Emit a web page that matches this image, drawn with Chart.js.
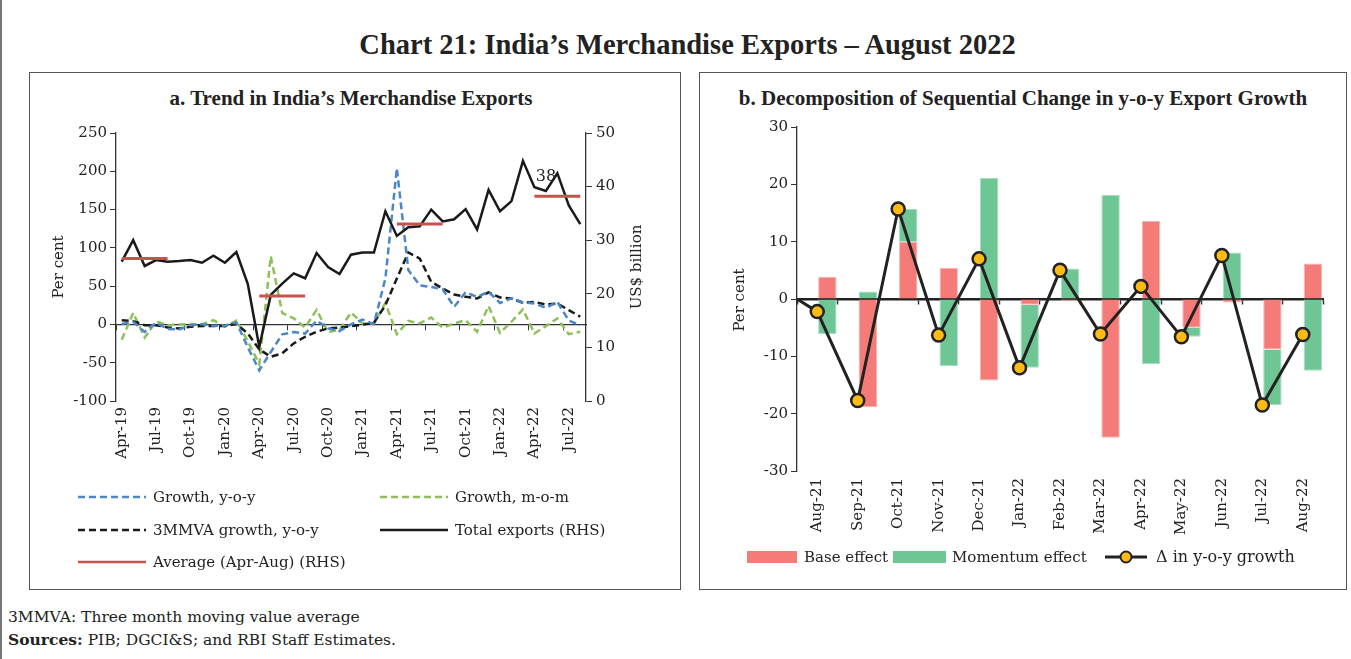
<!DOCTYPE html>
<html><head><meta charset="utf-8">
<script src="https://cdn.jsdelivr.net/npm/chart.js@4.4.0/dist/chart.umd.min.js"></script>
<style>
body{margin:0;background:#fff;width:1351px;height:659px;position:relative;overflow:hidden;font-family:"DejaVu Serif",serif;color:#222;}
.abs{position:absolute;}
#frame{position:absolute;left:0;top:0;width:2px;height:659px;background:#777;}
.panel{position:absolute;border:1.5px solid #555;box-sizing:border-box;}
#title{position:absolute;left:12px;width:1351px;top:28px;text-align:center;font:bold 28.5px "Liberation Serif",serif;line-height:34px;}
.sub{position:absolute;text-align:center;font:bold 21px "Liberation Serif",serif;line-height:24px;}
.rot{position:absolute;width:200px;height:20px;line-height:20px;text-align:center;font-size:15px;transform:rotate(-90deg);transform-origin:50% 50%;}
.lg{position:absolute;font-size:15px;line-height:20px;white-space:nowrap;}
.foot{position:absolute;left:8px;font-size:15.5px;line-height:20px;white-space:nowrap;}
svg{position:absolute;overflow:visible;}
</style></head>
<body>
<script>
// ---------- Panel a data ----------
const monthsA = ["Apr-19","May-19","Jun-19","Jul-19","Aug-19","Sep-19","Oct-19","Nov-19","Dec-19","Jan-20","Feb-20","Mar-20",
"Apr-20","May-20","Jun-20","Jul-20","Aug-20","Sep-20","Oct-20","Nov-20","Dec-20","Jan-21","Feb-21","Mar-21",
"Apr-21","May-21","Jun-21","Jul-21","Aug-21","Sep-21","Oct-21","Nov-21","Dec-21","Jan-22","Feb-22","Mar-22",
"Apr-22","May-22","Jun-22","Jul-22","Aug-22"];
const growthYoY = [0.6,3.5,-9.7,2.2,-6.0,-6.6,-1.1,0.3,-1.8,-1.7,2.9,-30,
-60,-36,-13,-10,-12,5,-5,-8.7,0.1,6.2,0.7,60,
204,71,51,49,46,23,42,36,42.6,28,34,28.7,
27.4,21.7,29.5,5,-0.9];
const growthMoM = [-20,15,-17,4,-1,0,0.5,0,5.5,-3,5,-22,
-52,89,15,8,-4,19,-10,-7,15.6,1.3,1.3,28,
-12.7,4.7,1.3,9,-4.4,1.3,5.6,-9.6,24,-11,3.5,19.6,
-11.8,-2.2,7.8,-12.7,-9.6];
const mma3 = [5.6,4.3,-1,-1,-3.9,-5.2,-3,-2,-2,-2,0.4,-11.7,
-32.6,-42.2,-37.8,-24.8,-16.1,-9.6,-5.2,-4.3,-2.2,-0.4,2.2,25,
60,94,86,55.6,47,39,36,34,41.8,35.2,34,28.2,
29.4,26,27.4,18.7,10];
const totalExports = [26.0,30.0,25.2,26.3,26.0,26.1,26.3,25.8,27.1,25.8,27.8,21.8,
10.1,19.8,21.9,23.8,22.9,27.6,25.0,23.7,27.3,27.7,27.7,35.4,
30.8,32.4,32.6,35.7,33.5,33.9,35.8,32.0,39.4,35.4,37.3,44.8,
39.9,39.2,42.5,36.5,33.0];
// Apr-Aug averages (RHS), one per year
const avgValues = [26.6,19.6,33.0,38.2];
const avgLabelText = "38";
const avgLabelMonth = "May-22";
const tickLabelsA = ["Apr-19","Jul-19","Oct-19","Jan-20","Apr-20","Jul-20","Oct-20","Jan-21","Apr-21","Jul-21","Oct-21","Jan-22","Apr-22","Jul-22"];

// ---------- Panel b data ----------
const monthsB = ["Aug-21","Sep-21","Oct-21","Nov-21","Dec-21","Jan-22","Feb-22","Mar-22","Apr-22","May-22","Jun-22","Jul-22","Aug-22"];
const baseEffect = [3.9,-18.9,10.0,5.4,-14.2,-1.0,-0.3,-24.2,13.6,-5.0,-0.6,-8.8,6.2];
const momentumEffect = [-6.1,1.3,5.7,-11.7,21.1,-11.0,5.3,18.2,-11.4,-1.6,8.1,-9.7,-12.5];
const yoyChange = [-2.2,-17.7,15.7,-6.3,7.0,-12.0,5.0,-6.1,2.2,-6.6,7.6,-18.5,-6.2];
const lineLeadIn = 0;
</script>

<div id="frame"></div>
<div id="title">Chart 21: India’s Merchandise Exports – August 2022</div>
<div class="panel" style="left:29px;top:72px;width:652px;height:518px"></div>
<div class="panel" style="left:699px;top:72px;width:648px;height:518px"></div>
<div class="sub" style="left:25px;width:652px;top:86px">a. Trend in India’s Merchandise Exports</div>
<div class="sub" style="left:699px;width:648px;top:86px">b. Decomposition of Sequential Change in y-o-y Export Growth</div>

<div class="abs" style="left:30px;top:110px;width:650px;height:370px"><canvas id="ca" width="650" height="370"></canvas></div>
<div class="abs" style="left:700px;top:110px;width:645px;height:430px"><canvas id="cb" width="645" height="430"></canvas></div>

<div class="rot" style="left:-42px;top:257px">Per cent</div>
<div class="rot" style="left:536px;top:257px">US$ billion</div>
<div class="rot" style="left:639px;top:290px">Per cent</div>

<!-- legends -->
<svg style="left:0;top:0" width="1" height="1">
  <line x1="78" y1="497" x2="146" y2="497" stroke="#4A86C8" stroke-width="2.5" stroke-dasharray="7,4"/>
  <line x1="380" y1="497" x2="448" y2="497" stroke="#8DC05A" stroke-width="2.5" stroke-dasharray="7,4"/>
  <line x1="78" y1="530" x2="146" y2="530" stroke="#1a1a1a" stroke-width="2.5" stroke-dasharray="7,4"/>
  <line x1="380" y1="530" x2="448" y2="530" stroke="#1a1a1a" stroke-width="2.5"/>
  <line x1="78" y1="562" x2="146" y2="562" stroke="#C9504C" stroke-width="2.5"/>
  <rect x="747" y="551" width="50" height="12" fill="#F47B78"/>
  <rect x="893" y="551" width="53" height="12" fill="#6EC695"/>
  <line x1="1105" y1="557" x2="1147" y2="557" stroke="#222" stroke-width="3"/>
  <circle cx="1126" cy="557" r="5.5" fill="#FDBB13" stroke="#222" stroke-width="2"/>
</svg>
<div class="lg" style="left:153px;top:487px">Growth, y-o-y</div>
<div class="lg" style="left:455px;top:487px">Growth, m-o-m</div>
<div class="lg" style="left:153px;top:520px">3MMVA growth, y-o-y</div>
<div class="lg" style="left:455px;top:520px">Total exports (RHS)</div>
<div class="lg" style="left:153px;top:552px">Average (Apr-Aug) (RHS)</div>
<div class="lg" style="left:804px;top:547px">Base effect</div>
<div class="lg" style="left:952px;top:547px">Momentum effect</div>
<div class="lg" style="left:1156px;top:547px;font-size:16px">Δ in y-o-y growth</div>

<div class="foot" style="top:607px">3MMVA: Three month moving value average</div>
<div class="foot" style="top:630px"><b>Sources:</b> PIB; DGCI&amp;S; and RBI Staff Estimates.</div>

<script>
const FONT = {family:'"DejaVu Serif", serif', size:15};
const AX = '#333';
Chart.defaults.color = '#222';

// average series: Apr..Aug of each year
const avgSeries = monthsA.map((m,i)=>{
  const mon = m.slice(0,3), yr = Math.floor(i/12);
  return ["Apr","May","Jun","Jul","Aug"].includes(mon) ? avgValues[yr] : null;
});

const avgLabelPlugin = {
  id:'avgLabel',
  afterDatasetsDraw(chart){
    const {ctx, scales} = chart;
    const x = scales.x.getPixelForValue(monthsA.indexOf(avgLabelMonth));
    const y = scales.y1.getPixelForValue(avgValues[avgValues.length-1]);
    ctx.save();
    ctx.font = '16px "DejaVu Serif", serif';
    ctx.fillStyle = '#222';
    ctx.textAlign = 'center';
    ctx.textBaseline = 'alphabetic';
    ctx.fillText(avgLabelText, x, y - 15);
    ctx.restore();
  }
};

new Chart(document.getElementById('ca'), {
  type:'line',
  data:{labels:monthsA, datasets:[
    {label:'Average (Apr-Aug) (RHS)', data:avgSeries, yAxisID:'y1', xAxisID:'x', borderColor:'#C9504C', borderWidth:3, pointRadius:0, spanGaps:false, order:0},
    {label:'Total exports (RHS)', data:totalExports, yAxisID:'y1', xAxisID:'x', borderColor:'#1a1a1a', borderWidth:2.5, pointRadius:0, order:1},
    {label:'Growth, y-o-y', data:growthYoY, yAxisID:'y', xAxisID:'x', borderColor:'#4A86C8', borderWidth:2.5, borderDash:[7,4], pointRadius:0, order:2},
    {label:'3MMVA growth, y-o-y', data:mma3, yAxisID:'y', xAxisID:'x', borderColor:'#1a1a1a', borderWidth:2.5, borderDash:[7,4], pointRadius:0, order:3},
    {label:'Growth, m-o-m', data:growthMoM, yAxisID:'y', xAxisID:'x', borderColor:'#8DC05A', borderWidth:2.5, borderDash:[7,4], pointRadius:0, order:4}
  ]},
  options:{
    responsive:false, animation:false,
    layout:{padding:{top:23,left:0,right:0,bottom:0}},
    plugins:{legend:{display:false}, tooltip:{enabled:false}},
    elements:{line:{tension:0}},
    scales:{
      x:{type:'category', position:'bottom', offset:true,
         grid:{display:false, drawTicks:false}, border:{display:false},
         ticks:{autoSkip:false, minRotation:90, maxRotation:90, padding:6, font:FONT,
                callback:(v,i)=> tickLabelsA.includes(monthsA[i]) ? monthsA[i] : null},
         afterFit:s=>{s.height=79;}},
      x0:{type:'category', position:{y:0}, offset:true,
          grid:{offset:true, drawOnChartArea:false, drawTicks:true, tickLength:5,
                tickColor:c=> (c.index!==undefined && tickLabelsA.includes(monthsA[c.index])) ? AX : 'rgba(0,0,0,0)'},
          border:{display:true, color:AX, width:1.3}, ticks:{display:false}},
      y:{position:'left', min:-100, max:250,
         ticks:{stepSize:50, padding:3, font:FONT},
         grid:{drawOnChartArea:false, tickLength:6, color:AX},
         border:{display:true, color:AX, width:1.3},
         afterFit:s=>{s.width=86;}},
      y1:{position:'right', min:0, max:50,
          ticks:{stepSize:10, padding:4, font:FONT},
          grid:{drawOnChartArea:false, tickLength:6, color:AX},
          border:{display:true, color:AX, width:1.3},
          afterFit:s=>{s.width=94;}}
    }
  },
  plugins:[avgLabelPlugin]
});

const lineData = [{x:-0.5, y:lineLeadIn}].concat(yoyChange.map((v,i)=>({x:i, y:v})));

new Chart(document.getElementById('cb'), {
  type:'bar',
  data:{labels:monthsB, datasets:[
    {type:'line', label:'Δ in y-o-y growth', data:lineData, xAxisID:'xl', yAxisID:'y', stack:'line',
     borderColor:'#222', borderWidth:3, tension:0,
     pointRadius:c=> c.dataIndex===0 ? 0 : 6.5, pointBackgroundColor:'#FDBB13', pointBorderColor:'#222', pointBorderWidth:2.5, order:0},
    {label:'Base effect', data:baseEffect, xAxisID:'x', yAxisID:'y', stack:'s',
     backgroundColor:'#F47B78', borderColor:'#F9B3B0', borderWidth:1, barPercentage:0.91, categoryPercentage:1, order:1},
    {label:'Momentum effect', data:momentumEffect, xAxisID:'x', yAxisID:'y', stack:'s',
     backgroundColor:'#6EC695', borderColor:'#A8DDBF', borderWidth:1, barPercentage:0.91, categoryPercentage:1, order:2}
  ]},
  options:{
    responsive:false, animation:false,
    layout:{padding:{top:17,left:0,right:22,bottom:0}},
    plugins:{legend:{display:false}, tooltip:{enabled:false}},
    scales:{
      x:{type:'category', position:'bottom', offset:true, stacked:true,
         grid:{display:false, drawTicks:false}, border:{display:false},
         ticks:{autoSkip:false, minRotation:90, maxRotation:90, padding:7, font:FONT},
         afterFit:s=>{s.height=69;}},
      x0:{type:'category', position:{y:0}, offset:true, z:1,
          grid:{offset:true, drawOnChartArea:false, drawTicks:true, tickLength:4, tickColor:AX, tickWidth:1.5},
          border:{display:true, color:'#222', width:2.5}, ticks:{display:false}},
      xl:{type:'linear', position:{y:0}, min:-0.5, max:12.5, offset:false, display:true,
          grid:{display:false, drawTicks:false, offset:false}, border:{display:false}, ticks:{display:false}},
      y:{position:'left', min:-30, max:30, stacked:true,
         ticks:{stepSize:10, padding:3, font:FONT},
         grid:{drawOnChartArea:false, tickLength:6, color:AX},
         border:{display:true, color:AX, width:1.3},
         afterFit:s=>{s.width=97;}}
    }
  }
});
</script>
</body></html>
